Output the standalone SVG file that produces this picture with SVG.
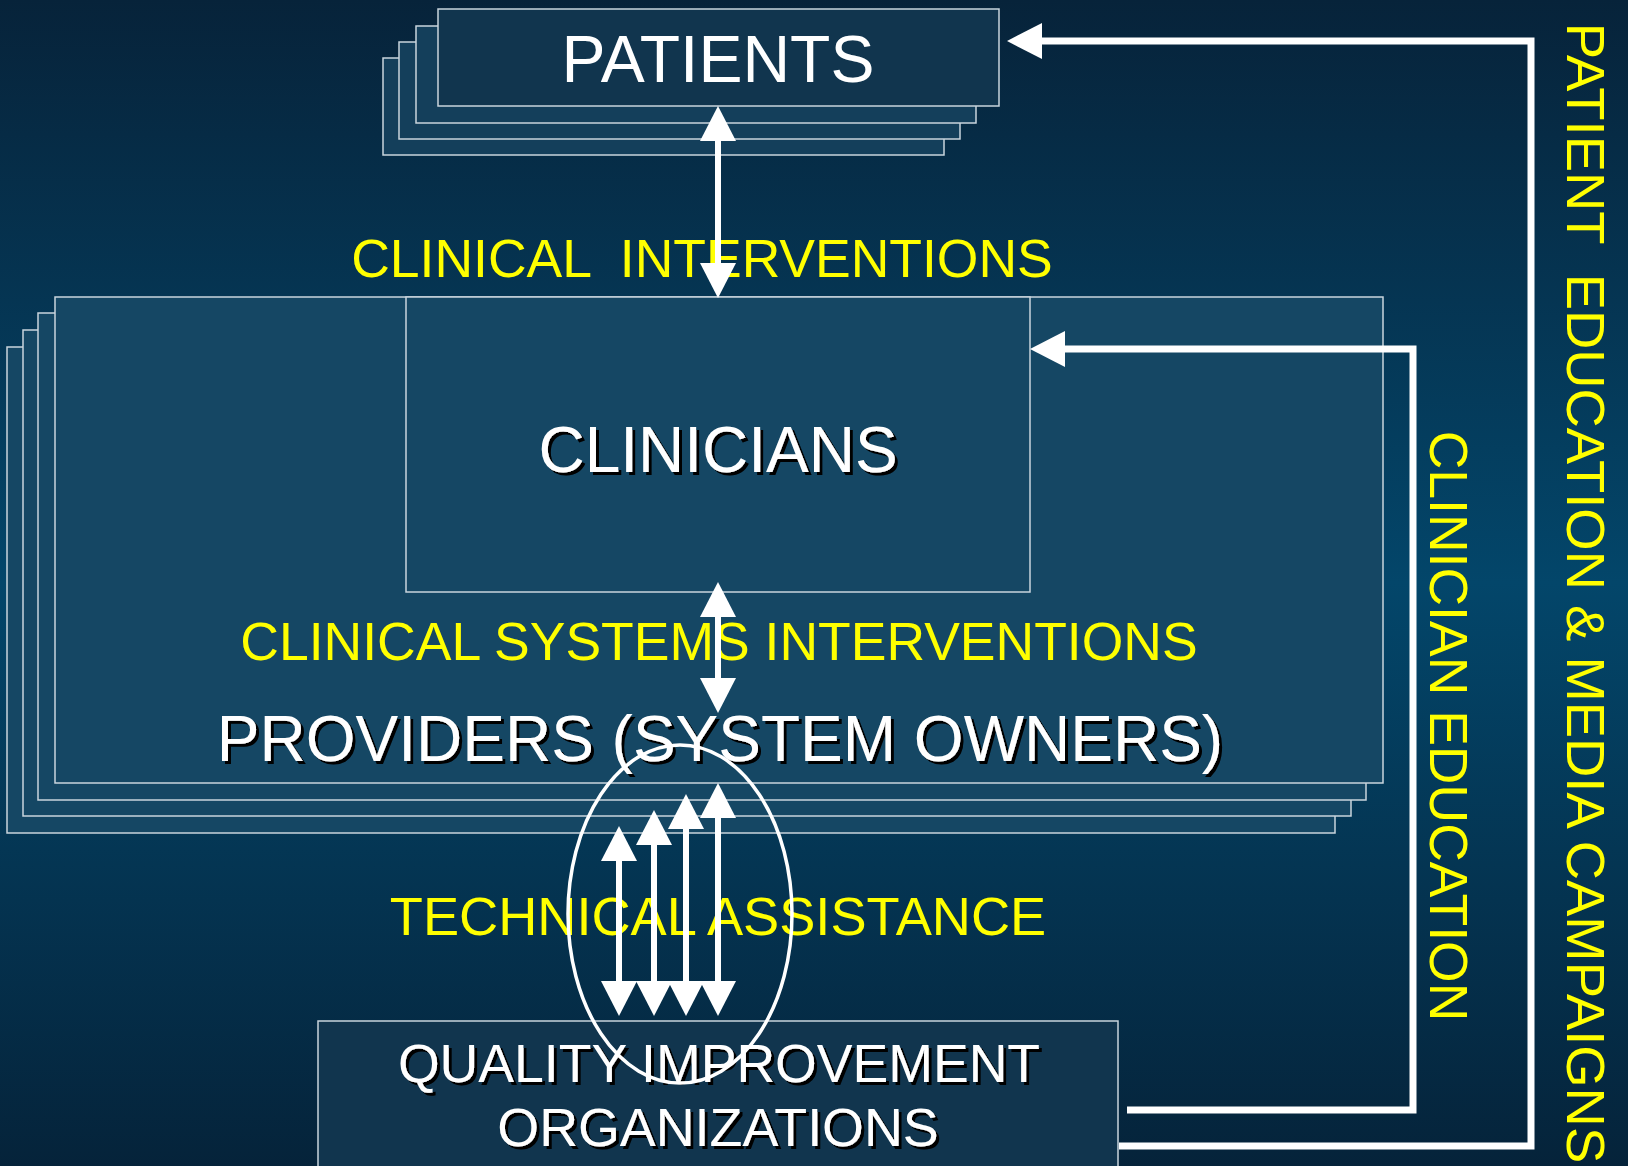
<svg xmlns="http://www.w3.org/2000/svg" width="1628" height="1166" viewBox="0 0 1628 1166">
<defs>
<linearGradient id="bg" x1="0" y1="0" x2="0" y2="1">
<stop offset="0" stop-color="#07233a"/>
<stop offset="0.5" stop-color="#03466a"/>
<stop offset="1" stop-color="#05233a"/>
</linearGradient>
<marker id="ah" markerUnits="userSpaceOnUse" markerWidth="36" markerHeight="36" viewBox="0 0 36 36" refX="0" refY="18" orient="auto-start-reverse">
<path d="M0,0 L35,18 L0,36 z" fill="#ffffff"/>
</marker>
<filter id="sh" x="-5%" y="-20%" width="110%" height="140%">
<feDropShadow dx="3" dy="3" stdDeviation="0" flood-color="#000000" flood-opacity="1"/>
</filter>
</defs>
<style>
.box{stroke:#c9d5dd;stroke-width:1.5}
.back{fill:#143f5b}
.prov{fill:#154764}
.dark{fill:#11354e}
.wt{font-family:"Liberation Sans",Arial,sans-serif;fill:#ffffff;text-anchor:middle}
.yl{font-family:"Liberation Sans",Arial,sans-serif;fill:#ffff00;text-anchor:middle;font-size:53.5px}
.shaft{stroke:#ffffff;stroke-width:6;fill:none}
.loop{stroke:#ffffff;stroke-width:7;fill:none;stroke-linejoin:miter}
</style>
<rect x="0" y="0" width="1628" height="1166" fill="url(#bg)"/>

<g id="patients">
<rect class="box back" x="383" y="58" width="561" height="97"/>
<rect class="box back" x="399" y="42" width="561" height="97"/>
<rect class="box back" x="416" y="26" width="560" height="97"/>
<rect class="box dark" x="438" y="9" width="561" height="97"/>
<text class="wt" x="718" y="82" font-size="66">PATIENTS</text>
</g>

<g id="providers">
<rect class="box prov" x="7" y="347" width="1328" height="486"/>
<rect class="box prov" x="23" y="330" width="1328" height="486"/>
<rect class="box prov" x="38" y="313" width="1328" height="487"/>
<rect class="box prov" x="55" y="297" width="1328" height="486"/>
<text class="wt" x="720" y="761" font-size="64" filter="url(#sh)">PROVIDERS (SYSTEM OWNERS)</text>
</g>

<g id="clinicians">
<rect class="box prov" x="406" y="297" width="624" height="295"/>
<text class="wt" x="718" y="472" font-size="64" filter="url(#sh)">CLINICIANS</text>
</g>

<g id="qio">
<rect class="box dark" x="318" y="1021" width="800" height="160"/>
<text class="wt" x="719" y="1082" font-size="53.6" filter="url(#sh)">QUALITY IMPROVEMENT</text>
<text class="wt" x="718" y="1146" font-size="53.8" filter="url(#sh)">ORGANIZATIONS</text>
</g>

<g id="labels">
<text class="yl" x="702" y="277" xml:space="preserve">CLINICAL  INTERVENTIONS</text>
<text class="yl" x="719" y="660">CLINICAL SYSTEMS INTERVENTIONS</text>
<text class="yl" x="718" y="935" style="font-size:54.2px">TECHNICAL ASSISTANCE</text>
<text class="yl" transform="translate(1430,726) rotate(90)" x="0" y="0">CLINICIAN EDUCATION</text>
<text class="yl" transform="translate(1567,593) rotate(90)" x="0" y="0" style="font-size:54.4px" xml:space="preserve">PATIENT  EDUCATION &amp; MEDIA CAMPAIGNS</text>
</g>

<g id="connectors">
<line class="shaft" x1="718" y1="141" x2="718" y2="263" marker-start="url(#ah)" marker-end="url(#ah)"/>
<line class="shaft" x1="718" y1="617" x2="718" y2="678" marker-start="url(#ah)" marker-end="url(#ah)"/>
<line class="shaft" x1="619" y1="861" x2="619" y2="981" marker-start="url(#ah)" marker-end="url(#ah)"/>
<line class="shaft" x1="654" y1="845" x2="654" y2="981" marker-start="url(#ah)" marker-end="url(#ah)"/>
<line class="shaft" x1="686" y1="829" x2="686" y2="981" marker-start="url(#ah)" marker-end="url(#ah)"/>
<line class="shaft" x1="718" y1="818" x2="718" y2="981" marker-start="url(#ah)" marker-end="url(#ah)"/>
<polyline class="loop" points="1119,1146 1531,1146 1531,41 1042,41" marker-end="url(#ah)"/>
<polyline class="loop" points="1127,1110 1413,1110 1413,349 1065,349" marker-end="url(#ah)"/>
<ellipse cx="680" cy="914" rx="112" ry="169" fill="none" stroke="#ffffff" stroke-width="3.5"/>
</g>
</svg>
